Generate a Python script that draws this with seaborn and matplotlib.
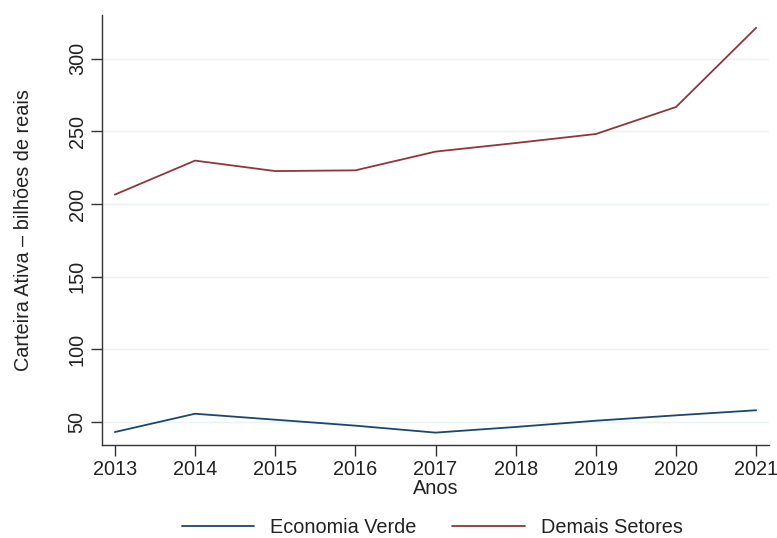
import matplotlib
matplotlib.use("Agg")
import matplotlib.pyplot as plt
import seaborn as sns
import pandas as pd

anos = [2013, 2014, 2015, 2016, 2017, 2018, 2019, 2020, 2021]
economia_verde = [43.1, 55.7, 51.6, 47.5, 42.7, 46.6, 50.9, 54.6, 58.1]
demais_setores = [206.5, 229.9, 222.7, 223.2, 236.1, 242.0, 248.2, 266.8, 321.3]
series_nomes = ["Economia Verde", "Demais Setores"]
cores = ["#1a476f", "#90353b"]
y_ticks = [50, 100, 150, 200, 250, 300]

df = pd.DataFrame({
    "Anos": anos * 2,
    "valor": economia_verde + demais_setores,
    "serie": [series_nomes[0]] * len(anos) + [series_nomes[1]] * len(anos),
})

sns.set_theme(style="white")
plt.rcParams["font.family"] = ["Liberation Sans", "DejaVu Sans"]

fig = plt.figure(figsize=(7.77, 5.38), dpi=100)
ax = fig.add_axes([0.1313, 0.1729, 0.8584, 0.7992])

sns.lineplot(data=df, x="Anos", y="valor", hue="serie", palette=cores,
             linewidth=1.3, ax=ax, legend=False)

ax.set_xlim(2012.84, 2021.16)
ax.set_ylim(34.2, 330.1)
ax.set_xticks(anos)
ax.set_xticklabels([str(a) for a in anos])
ax.set_yticks(y_ticks)
ax.set_yticklabels([str(v) for v in y_ticks], rotation=90, va="center")

ax.yaxis.grid(True, color="#eaf2f3", linewidth=1.0)
ax.set_axisbelow(True)
for s in ["top", "right"]:
    ax.spines[s].set_visible(False)
for s in ["left", "bottom"]:
    ax.spines[s].set_color("#333333")
    ax.spines[s].set_linewidth(1.0)

ax.tick_params(axis="both", which="major", direction="out", length=8,
               width=1.0, color="#333333", labelsize=14.3, labelcolor="#222222",
               left=True, bottom=True, pad=3)

ax.set_xlabel("Anos", fontsize=14.3, color="#222222", labelpad=0)
ax.set_ylabel("Carteira Ativa \u2013 bilh\u00f5es de reais", fontsize=14.3,
              color="#222222", labelpad=25)

handles = [plt.Line2D([], [], color=c, linewidth=1.3) for c in cores]
fig.legend(handles, series_nomes, loc="center", bbox_to_anchor=(0.556, 0.019),
           ncol=2, frameon=False, fontsize=14.3, handlelength=3.65,
           columnspacing=1.8, handletextpad=0.8, labelcolor="#222222",
           borderpad=0.1)

fig.savefig("out.png", dpi=100)
